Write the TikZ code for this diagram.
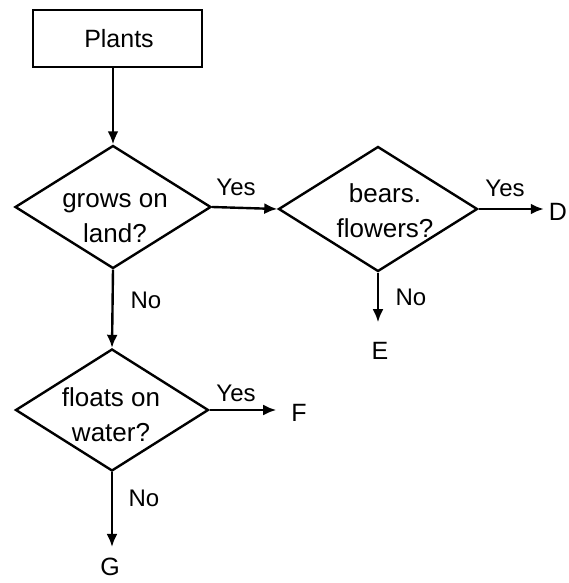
\documentclass[tikz,border=0pt]{standalone}
\usepackage{fontspec}
\setmainfont{Liberation Sans}
\usetikzlibrary{shapes.geometric,arrows.meta}
\begin{document}
\begin{tikzpicture}[x=1pt,y=-1pt,
  line width=2.4pt,
  dtext/.style={font=\fontsize{26}{35}\selectfont, inner sep=0pt, align=center},
  lbl/.style={font=\fontsize{24}{30}\selectfont, inner sep=0pt},
  outc/.style={font=\fontsize{25}{30}\selectfont, inner sep=0pt},
  dec/.style={draw, diamond, inner sep=0pt, minimum width=#1},
  box/.style={draw, rectangle, minimum width=169pt, minimum height=57pt, inner sep=0pt, font=\fontsize{25}{30}\selectfont},
  arr/.style={-{Latex[length=13pt,width=11pt]}}]
\useasboundingbox (0,0) rectangle (568,583);
\fill[white] (0,0) rectangle (568,583);
% start box
\node[box] (plants) at (117.5,38.5) {\hspace*{3pt}Plants};
% decisions
\node[dec=196pt, minimum height=123pt] (d1) at (113,207) {};
\node[dtext] (t1) at (115,218) {grows on\\land?};
\node[dec=199pt, minimum height=125pt] (d2) at (378,209) {};
\node[dtext] (t2) at (385,211) {bears.\\flowers?};
\node[dec=193pt, minimum height=122pt] (d3) at (112,410) {};
\node[dtext] (t3) at (111,415) {floats on\\water?};
% outcomes
\node[outc] (D) at (558,212) {D};
\node[outc] (E) at (380,351) {E};
\node[outc] (F) at (299,413) {F};
\node[outc] (G) at (110,567) {G};
% branch labels
\node[lbl] (y1) at (236,187) {Yes};
\node[lbl] (y2) at (505,188) {Yes};
\node[lbl] (y3) at (236,393) {Yes};
\node[lbl] (n1) at (146,300) {No};
\node[lbl] (n2) at (411,297) {No};
\node[lbl] (n3) at (144,498) {No};
% connectors
\draw[arr] (plants.south -| d1.north) -- (d1.north);
\draw[arr] (d1.east) -- (d2.west);
\draw[arr, shorten >=4pt] (d2.east) -- (d2.east -| D.west);
\draw[arr, shorten >=19pt] (d2.south) -- (d2.south |- E.north);
\draw[arr] (d1.south) -- (d3.north);
\draw[arr, shorten >=14pt] (d3.east) -- (d3.east -| F.west);
\draw[arr, shorten >=10pt] (d3.south) -- (d3.south |- G.north);
\end{tikzpicture}
\end{document}
